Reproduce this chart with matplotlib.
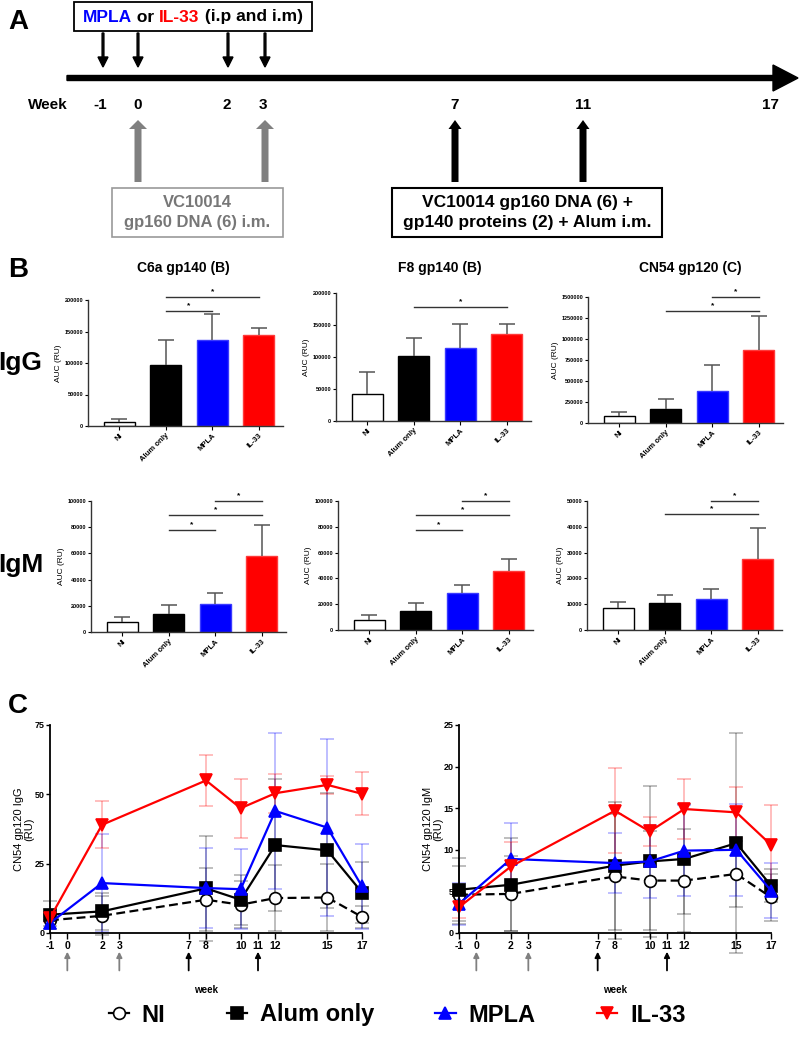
import numpy as np
import matplotlib.pyplot as plt
from matplotlib.patches import Rectangle, FancyArrow
from matplotlib.lines import Line2D
from matplotlib.offsetbox import TextArea, HPacker, AnnotationBbox

W, H = 800, 1037
NARROW = ['Liberation Sans Narrow', 'Liberation Sans', 'DejaVu Sans']
WIDE = ['Liberation Sans', 'DejaVu Sans']
plt.rcParams['font.family'] = NARROW
plt.rcParams['font.weight'] = 'bold'
plt.rcParams['axes.unicode_minus'] = False

# ---------------- data ----------------
groups = ['NI', 'Alum only', 'MPLA', 'IL-33']
bar_colors = ['white', 'black', '#0000ff', '#ff0000']
bar_edges = ['black', 'black', '#3a3aff', '#ff3a3a']

antigens = ['C6a gp140 (B)', 'F8 gp140 (B)', 'CN54 gp120 (C)']
igg_auc = [[7000, 97000, 137000, 144000],
           [42000, 102000, 114000, 136000],
           [80000, 170000, 375000, 865000]]
igg_err = [[4000, 39000, 40000, 12000],
           [35000, 27000, 37000, 16000],
           [55000, 120000, 315000, 405000]]
igm_auc = [[7500, 13500, 21500, 58000],
           [8000, 15000, 29000, 46000],
           [8500, 10500, 12000, 27500]]
igm_err = [[4000, 7000, 8500, 23500],
           [4000, 6000, 6000, 9000],
           [2500, 3000, 4000, 12000]]
igg_ymax = [200000, 200000, 1500000]
igg_step = [50000, 50000, 250000]
igm_ymax = [100000, 100000, 50000]
igm_step = [20000, 20000, 10000]
# significance brackets: (group a, group b, height)
igg_sig = [[(1, 3, 204000), (1, 2, 182500)],
           [(1, 3, 178000)],
           [(2, 3, 1500000), (1, 3, 1333000)]]
igm_sig = [[(2, 3, 100000), (1, 3, 89500), (1, 2, 77500)],
           [(2, 3, 100000), (1, 3, 89000), (1, 2, 77500)],
           [(2, 3, 50000), (1, 3, 45000)]]

weeks = [-1, 2, 8, 10, 12, 15, 17]
week_ticks = [-1, 0, 2, 3, 7, 8, 10, 11, 12, 15, 17]
dna_weeks = [0, 3]
boost_weeks = [7, 11]

igg_ts = {
    'NI':        [4.6, 6.2, 12.0, 10.2, 12.6, 12.8, 5.8],
    'Alum only': [6.6, 7.8, 16.1, 12.0, 31.7, 29.8, 14.6],
    'MPLA':      [3.6, 18.0, 16.2, 15.8, 44.0, 38.0, 16.8],
    'IL-33':     [5.4, 39.0, 55.0, 45.0, 50.4, 53.4, 50.2],
}
igg_ts_err = {
    'NI':        [2.0, 7.0, 11.4, 8.5, 12.0, 12.0, 4.0],
    'Alum only': [5.0, 6.6, 19.0, 9.0, 23.8, 20.8, 11.0],
    'MPLA':      [2.0, 17.8, 14.3, 14.4, 28.0, 31.9, 15.3],
    'IL-33':     [1.5, 8.5, 9.2, 10.6, 7.0, 3.2, 7.8],
}
igm_ts = {
    'NI':        [4.6, 4.7, 6.8, 6.3, 6.3, 7.1, 4.3],
    'Alum only': [5.2, 5.8, 8.1, 8.6, 8.9, 10.8, 5.7],
    'MPLA':      [3.5, 8.9, 8.4, 8.6, 9.9, 10.0, 5.1],
    'IL-33':     [3.1, 8.0, 14.7, 12.2, 14.9, 14.5, 10.6],
}
igm_ts_err = {
    'NI':        [3.5, 4.5, 7.5, 5.9, 6.2, 4.0, 2.8],
    'Alum only': [3.8, 5.6, 7.7, 9.1, 6.6, 13.2, 2.0],
    'MPLA':      [2.5, 4.3, 3.6, 4.4, 5.5, 5.5, 3.3],
    'IL-33':     [1.3, 2.9, 5.1, 1.7, 3.6, 3.1, 4.8],
}
line_styles = {
    'NI':        dict(color='black', ls='--', marker='o', mfc='white', mec='black'),
    'Alum only': dict(color='black', ls='-', marker='s', mfc='black', mec='black'),
    'MPLA':      dict(color='#0000ff', ls='-', marker='^', mfc='#0000ff', mec='#0000ff'),
    'IL-33':     dict(color='#ff0000', ls='-', marker='v', mfc='#ff0000', mec='#ff0000'),
}

# schematic timeline (panel A)
timeline_labels = ['-1', '0', '2', '3', '7', '11', '17']
timeline_x = [100, 138, 227, 263, 455, 583, 770]
adjuvant_x = [103, 138, 228, 265]
dna_x = [138, 265]
boost_x = [455, 583]


def frac(left, top, width, height):
    return [left / W, 1 - (top + height) / H, width / W, height / H]


fig = plt.figure(figsize=(W / 100, H / 100), dpi=100)

# ---------------- panel A (schematic, pixel coordinates) ----------------
axA = fig.add_axes([0, 0, 1, 1])
axA.set_xlim(0, W)
axA.set_ylim(H, 0)
axA.axis('off')

axA.add_patch(FancyArrow(67, 78, 731, 0, width=5, head_width=26, head_length=25,
                         length_includes_head=True, color='black'))
for x in adjuvant_x:
    axA.add_patch(FancyArrow(x, 33, 0, 34, width=1.8, head_width=10, head_length=10,
                             length_includes_head=True, color='black'))
for x in dna_x:
    axA.add_patch(FancyArrow(x, 182, 0, -62, width=7, head_width=18, head_length=9,
                             length_includes_head=True, color='#808080', lw=0))
for x in boost_x:
    axA.add_patch(FancyArrow(x, 182, 0, -62, width=7, head_width=13, head_length=9,
                             length_includes_head=True, color='black', lw=0))

axA.add_patch(Rectangle((74, 2), 238, 29, fill=False, ec='black', lw=1.3))
parts = [('MPLA', '#0000ff'), (' or ', 'black'), ('IL-33', '#ff0000'), (' (i.p and i.m)', 'black')]
pack = HPacker(children=[TextArea(t, textprops=dict(color=c, size=12.5, weight='bold', family=WIDE))
                         for t, c in parts], pad=0, sep=0)
axA.add_artist(AnnotationBbox(pack, (193, 17), xycoords='data', frameon=False,
                              box_alignment=(0.5, 0.5)))

axA.text(48, 105, 'Week', ha='center', va='center', size=11, family=WIDE)
for x, lbl in zip(timeline_x, timeline_labels):
    axA.text(x, 105, lbl, ha='center', va='center', size=11, family=WIDE)

axA.add_patch(Rectangle((112, 188), 171, 49, fill=False, ec='#999999', lw=1.2))
axA.text(197.5, 212.5, 'VC10014\ngp160 DNA (6) i.m.', ha='center', va='center',
         size=12, color='#777777', linespacing=1.35)
axA.add_patch(Rectangle((392, 188), 270, 49, fill=False, ec='black', lw=1.5))
axA.text(527, 212.5, 'VC10014 gp160 DNA (6) +\ngp140 proteins (2) + Alum i.m.',
         ha='center', va='center', size=12.5, linespacing=1.35)

axA.text(8, 22, 'A', ha='left', va='center', size=20, family=WIDE)
axA.text(8, 270, 'B', ha='left', va='center', size=20, family=WIDE)
axA.text(8, 706, 'C', ha='left', va='center', size=20, family=WIDE)
axA.text(-2, 370, 'IgG', ha='left', va='baseline', size=19, family=WIDE)
axA.text(-2, 572, 'IgM', ha='left', va='baseline', size=19, family=WIDE)
for cx, title in zip([183, 440, 690], antigens):
    axA.text(cx, 268, title, ha='center', va='center', size=10)

# ---------------- panel B (bar charts) ----------------
bar_geom = [[(88, 426, 300), (336, 421, 293), (588, 423, 297)],
            [(91, 632, 501), (338, 630, 501), (587, 630, 501)]]
rows = [(igg_auc, igg_err, igg_ymax, igg_step, igg_sig),
        (igm_auc, igm_err, igm_ymax, igm_step, igm_sig)]
xpos = np.arange(len(groups))
for r, (auc, err, ymax, step, sig) in enumerate(rows):
    for c in range(3):
        ax_x, bot, top = bar_geom[r][c]
        ax = fig.add_axes(frac(ax_x, top, 195, bot - top))
        vals = np.array(auc[c], float)
        errs = np.array(err[c], float)
        ax.bar(xpos, vals, width=0.67, color=bar_colors, edgecolor=bar_edges, linewidth=1.0)
        ax.vlines(xpos, vals, vals + errs, color='#555555', lw=1.1)
        ax.hlines(vals + errs, xpos - 0.17, xpos + 0.17, color='#555555', lw=1.1)
        for a, b, y in sig[c]:
            ax.plot([a, b], [y, y], color='#333333', lw=1.0, clip_on=False)
            ax.text((a + b) / 2, y + ymax[c] * 0.015, '*', ha='center', va='bottom',
                    size=6, clip_on=False)
        ax.set_xlim(-0.67, 3.52)
        ax.set_ylim(0, ymax[c])
        ticks = np.arange(0, ymax[c] + 1, step[c])
        ax.set_yticks(ticks)
        ax.set_yticklabels([str(int(t)) for t in ticks])
        ax.set_xticks(xpos)
        ax.set_xticklabels(groups, rotation=45, ha='right', rotation_mode='anchor')
        ax.tick_params(axis='y', labelsize=4, length=2.5, width=0.8, pad=1)
        ax.tick_params(axis='x', labelsize=5.5, length=3, width=0.8, pad=1.5)
        ax.set_ylabel('AUC (RU)', size=6, labelpad=2)
        for s in ['top', 'right']:
            ax.spines[s].set_visible(False)
        for s in ['left', 'bottom']:
            ax.spines[s].set_linewidth(1.0)
            ax.spines[s].set_color('#333333')
        ax.patch.set_alpha(0)

# ---------------- panel C (time courses) ----------------
ts_sets = [(50, igg_ts, igg_ts_err, 75, 25, 'CN54 gp120 IgG\n(RU)'),
           (459, igm_ts, igm_ts_err, 25, 5, 'CN54 gp120 IgM\n(RU)')]
for ax_x, ts, ts_err, ymax, step, ylabel in ts_sets:
    ax = fig.add_axes(frac(ax_x, 725, 312, 208))
    for g in groups:
        st = line_styles[g]
        ax.errorbar(weeks, ts[g], yerr=ts_err[g], fmt='none', ecolor=st['color'],
                    alpha=0.3, capsize=5, elinewidth=1.2, capthick=1.2, clip_on=False)
    for g in groups:
        st = line_styles[g]
        ax.plot(weeks, ts[g], color=st['color'], ls=st['ls'], marker=st['marker'],
                mfc=st['mfc'], mec=st['mec'], ms=8.5, mew=1.2, lw=1.6,
                dashes=(4, 2) if st['ls'] == '--' else (None, None), clip_on=False)
    ax.set_xlim(-1, 17)
    ax.set_ylim(0, ymax)
    ax.set_xticks(week_ticks)
    ax.set_yticks(np.arange(0, ymax + 1, step))
    ax.tick_params(axis='x', labelsize=7.5, length=4, width=1, pad=1.5)
    ax.tick_params(axis='y', labelsize=6.5, length=3, width=1, pad=1)
    ax.set_ylabel(ylabel, size=8, linespacing=1.0)
    ax.yaxis.set_label_coords(-0.05, 0.5)
    for s in ['top', 'right']:
        ax.spines[s].set_visible(False)
    for s in ['left', 'bottom']:
        ax.spines[s].set_linewidth(1.3)
    trans = ax.get_xaxis_transform()
    for wk_list, col in [(dna_weeks, '#808080'), (boost_weeks, 'black')]:
        for wk in wk_list:
            ax.annotate('', xy=(wk, -0.09), xytext=(wk, -0.18), xycoords=trans,
                        textcoords=trans, annotation_clip=False,
                        arrowprops=dict(arrowstyle='-|>', color=col, lw=1.3,
                                        mutation_scale=8, shrinkA=0, shrinkB=0))
    ax.text(0.5, -0.275, 'week', transform=ax.transAxes, ha='center', va='center', size=7)
    ax.patch.set_alpha(0)

handles = []
for g in groups:
    st = line_styles[g]
    handles.append(Line2D([], [], color=st['color'], ls='-', marker=st['marker'],
                          mfc=st['mfc'], mec=st['mec'], ms=8.5, mew=1.2, lw=1.6))
fig.legend(handles, groups, loc='center', bbox_to_anchor=(397 / W, 1 - 1015 / H), ncol=4,
           frameon=False, prop=dict(size=17, weight='bold', family=NARROW),
           handlelength=0.85, handletextpad=0.55, columnspacing=2.6)

fig.savefig('out.png', dpi=100)
